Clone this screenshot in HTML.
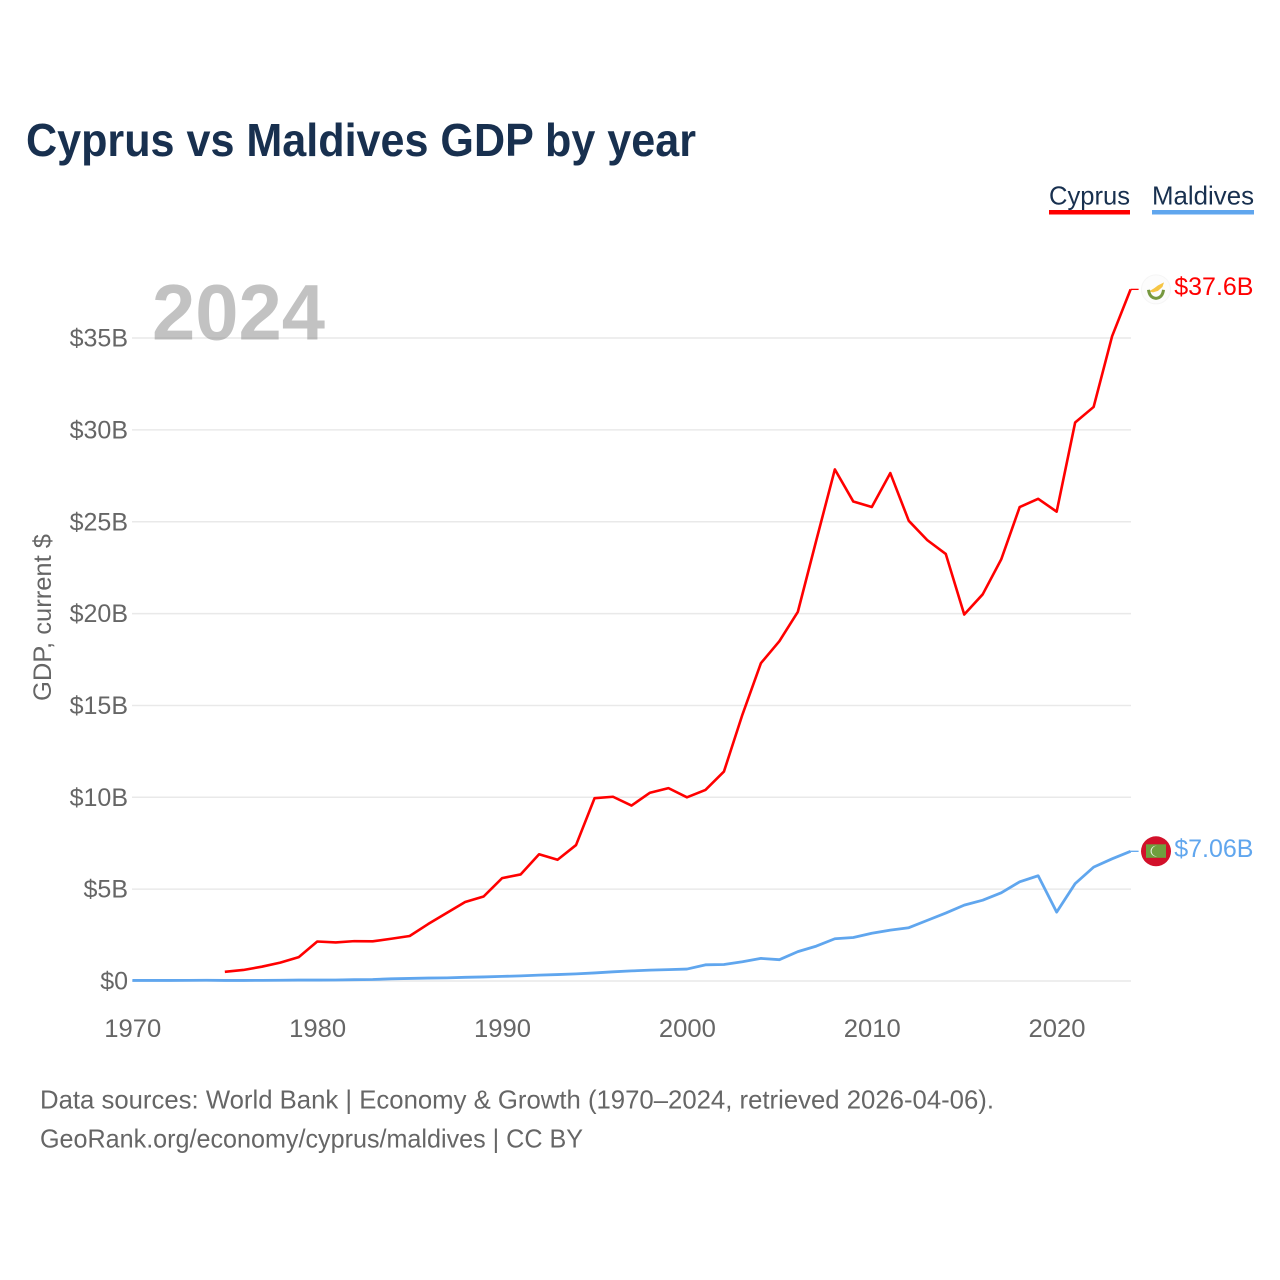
<!DOCTYPE html>
<html lang="en">
<head>
<meta charset="utf-8">
<title>Cyprus vs Maldives GDP by year</title>
<style>
html,body{margin:0;padding:0;background:#fff;width:1280px;height:1280px;overflow:hidden}
svg{display:block}
text{font-family:"Liberation Sans",Arial,sans-serif}
</style>
</head>
<body>
<svg id="chart" width="1280" height="1280" viewBox="0 0 1280 1280" xmlns="http://www.w3.org/2000/svg">
  <rect x="0" y="0" width="1280" height="1280" fill="#ffffff"/>
  <text x="26" y="156" font-size="46" font-weight="700" fill="#18304f" textLength="670" lengthAdjust="spacingAndGlyphs">Cyprus vs Maldives GDP by year</text>

  <g>
    <text x="1049" y="204.5" font-size="26" fill="#18304f" textLength="81" lengthAdjust="spacingAndGlyphs">Cyprus</text>
    <rect x="1049" y="210" width="81" height="4.5" fill="#ff0000"/>
  </g>
  <g>
    <text x="1152" y="204.5" font-size="26" fill="#18304f" textLength="102" lengthAdjust="spacingAndGlyphs">Maldives</text>
    <rect x="1152" y="210" width="102" height="4.5" fill="#60a6ee"/>
  </g>

  <g id="grid"></g>
  <text x="152" y="339.5" font-size="79" font-weight="700" fill="#8c8c8c" fill-opacity="0.53" textLength="173" lengthAdjust="spacingAndGlyphs">2024</text>
  <g id="yticks"></g>
  <g id="xticks"></g>
  <text transform="translate(51,701) rotate(-90)" x="0" y="0" font-size="25" fill="#666666" textLength="167" lengthAdjust="spacingAndGlyphs">GDP, current $</text>
  <g id="series"></g>

  <g id="flag-cyprus">
    <circle cx="0" cy="0" r="14.5" fill="#fcfcfc" stroke="#f5f5f5" stroke-width="1"/>
    <path d="M-7 2 L-2 -1 L2 -4 L8 -7 L6.5 -2.5 L2 1.5 L-3 3 Z" fill="#f6c544"/>
    <path d="M-7.5 0.5 Q-6.5 8.5 0 9 Q6.5 8.5 7.5 0.5" fill="none" stroke="#76983f" stroke-width="3"/>
  </g>
  <g id="flag-maldives">
    <circle cx="0" cy="0" r="15" fill="#d2102a"/>
    <rect x="-10" y="-7" width="20" height="13.5" fill="#6f9f3e"/>
    <path d="M1 -5.5 A5.4 5.4 0 1 0 1 5.1 A4.6 4.6 0 1 1 1 -5.5 Z" fill="#e8eee0"/>
  </g>
  <g id="endlabels"></g>

  <text x="40" y="1108.5" font-size="26" fill="#666666" textLength="954" lengthAdjust="spacingAndGlyphs">Data sources: World Bank | Economy &amp; Growth (1970–2024, retrieved 2026-04-06).</text>
  <text x="40" y="1147.5" font-size="26" fill="#666666" textLength="543" lengthAdjust="spacingAndGlyphs">GeoRank.org/economy/cyprus/maldives | CC BY</text>
</svg>
<script>
const years = [1970,1971,1972,1973,1974,1975,1976,1977,1978,1979,1980,1981,1982,1983,1984,1985,1986,1987,1988,1989,1990,1991,1992,1993,1994,1995,1996,1997,1998,1999,2000,2001,2002,2003,2004,2005,2006,2007,2008,2009,2010,2011,2012,2013,2014,2015,2016,2017,2018,2019,2020,2021,2022,2023,2024];
const cyprusValues = [null,null,null,null,null,0.5,0.6,0.78,1.0,1.3,2.15,2.1,2.17,2.16,2.3,2.45,3.1,3.7,4.3,4.6,5.6,5.8,6.9,6.6,7.4,9.95,10.03,9.55,10.25,10.5,10.0,10.4,11.4,14.5,17.3,18.5,20.1,24.0,27.85,26.1,25.8,27.65,25.05,24.0,23.25,19.95,21.05,22.95,25.8,26.25,25.55,30.4,31.25,35.1,37.65];
const maldivesValues = [0.03,0.03,0.03,0.035,0.04,0.03,0.03,0.035,0.04,0.05,0.05,0.055,0.07,0.08,0.12,0.14,0.16,0.17,0.2,0.22,0.25,0.28,0.32,0.35,0.39,0.44,0.5,0.55,0.59,0.62,0.65,0.88,0.9,1.05,1.23,1.16,1.6,1.9,2.3,2.37,2.6,2.77,2.9,3.3,3.7,4.13,4.4,4.8,5.4,5.73,3.75,5.3,6.2,6.65,7.06];
const yTickValues = [0,5,10,15,20,25,30,35];
const yTickLabels = ["$0","$5B","$10B","$15B","$20B","$25B","$30B","$35B"];
const xTickValues = [1970,1980,1990,2000,2010,2020];
const xTickLabels = ["1970","1980","1990","2000","2010","2020"];
const endValueLabels = ["$37.6B","$7.06B"];

const NS = "http://www.w3.org/2000/svg";
function xScale(year){ return 132.4 + (year - 1970) * (1130.6 - 132.4) / 54; }
function yScale(v){ return 981 - v * 18.37; }
function make(tag, attrs, parent){
  const el = document.createElementNS(NS, tag);
  for (const k in attrs) el.setAttribute(k, attrs[k]);
  parent.appendChild(el);
  return el;
}
const grid = document.getElementById("grid");
const yticks = document.getElementById("yticks");
const xticks = document.getElementById("xticks");
const seriesGroup = document.getElementById("series");
const endlabels = document.getElementById("endlabels");

yTickValues.forEach(function(v, i){
  const line = make("line", {x1:132, x2:1131, y1:yScale(v), y2:yScale(v), stroke:"#e9e9e9", "stroke-width":1.5}, grid);
  
  
  const t = make("text", {x:128, y:yScale(v)+8.5, "text-anchor":"end", "font-size":25, fill:"#666666"}, yticks);
  t.textContent = yTickLabels[i];
  
  
});
xTickValues.forEach(function(v, i){
  const t = make("text", {x:xScale(v)+0.4, y:1037, "text-anchor":"middle", "font-size":25, fill:"#666666", textLength:57, lengthAdjust:"spacingAndGlyphs"}, xticks);
  t.textContent = xTickLabels[i];
  
  
});
function linePath(values){
  let d = "";
  values.forEach(function(v, i){
    if (v === null) return;
    d += (d ? "L" : "M") + xScale(years[i]).toFixed(2) + " " + yScale(v).toFixed(2);
  });
  return d;
}
const blue = "#60a6ee";
const red = "#ff0000";
const maldivesLine = make("path", {d:linePath(maldivesValues), fill:"none", stroke:blue, "stroke-width":2.8, "stroke-linejoin":"round"}, seriesGroup);


const cyprusLine = make("path", {d:linePath(cyprusValues), fill:"none", stroke:red, "stroke-width":2.6, "stroke-linejoin":"round"}, seriesGroup);



const lastC = cyprusValues[cyprusValues.length - 1];
const lastM = maldivesValues[maldivesValues.length - 1];
const lastX = xScale(years[years.length - 1]);

const connC = make("line", {x1:lastX, x2:lastX+8, y1:yScale(lastC), y2:yScale(lastC), stroke:red, "stroke-width":1.3}, seriesGroup);


const connM = make("line", {x1:lastX, x2:lastX+8, y1:yScale(lastM), y2:yScale(lastM), stroke:blue, "stroke-width":1.3}, seriesGroup);



document.getElementById("flag-cyprus").setAttribute("transform", "translate(" + (lastX + 25.4) + "," + yScale(lastC) + ")");
document.getElementById("flag-maldives").setAttribute("transform", "translate(" + (lastX + 25.4) + "," + yScale(lastM) + ")");

const labelC = make("text", {x:1253.5, y:yScale(lastC)+5.5, "text-anchor":"end", "font-size":25, fill:red}, endlabels);
labelC.textContent = endValueLabels[0];


const labelM = make("text", {x:1253.5, y:yScale(lastM)+5.5, "text-anchor":"end", "font-size":25, fill:blue}, endlabels);
labelM.textContent = endValueLabels[1];


</script>
</body>
</html>
